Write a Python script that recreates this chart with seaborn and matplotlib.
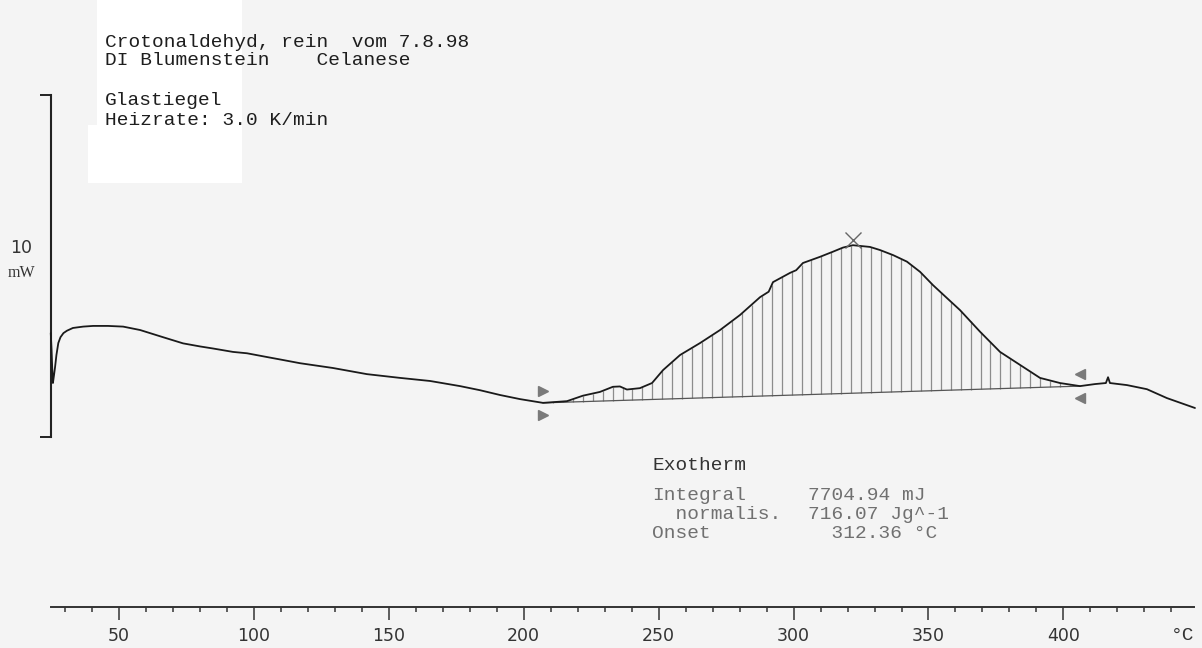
import numpy as np
import matplotlib
matplotlib.use("Agg")
import matplotlib.pyplot as plt
from matplotlib.patches import Rectangle
import seaborn as sns

# DSC trace: temperature (°C) and heat flow (mW, arbitrary offset)
temp = [24.9, 25.2, 25.6, 25.7, 26.1, 26.5, 27.0, 27.7, 28.5, 29.6, 30.9, 33.1,
        36.9, 40.6, 46.1, 51.7, 58.0, 66.5, 73.9, 80.2, 85.0, 92.4, 97.6, 105.0,
        109.8, 117.2, 129.4, 142.0, 154.3, 165.4, 176.5, 183.9, 191.3, 198.7,
        207.2, 216.1, 222.0, 228.3, 233.1, 235.7, 238.3, 243.1, 247.6, 251.7,
        258.0, 265.4, 272.8, 280.2, 287.6, 290.8, 292.4, 298.7, 301.0, 303.5,
        309.8, 314.6, 318.3, 322.0, 328.3, 332.0, 336.9, 342.0, 346.9, 351.7,
        356.9, 361.7, 369.1, 376.5, 383.9, 391.3, 398.7, 406.1, 411.7, 415.7,
        416.5, 417.2, 423.5, 430.9, 438.3, 448.7]
heat = [3.04, 2.54, 1.67, 1.58, 1.81, 2.05, 2.40, 2.75, 2.92, 3.04, 3.11, 3.19,
        3.23, 3.25, 3.25, 3.23, 3.13, 2.92, 2.74, 2.65, 2.59, 2.49, 2.45, 2.34,
        2.27, 2.16, 2.02, 1.84, 1.73, 1.64, 1.49, 1.37, 1.23, 1.11,
        1.00, 1.05, 1.21, 1.32, 1.47, 1.48, 1.39, 1.43, 1.58, 1.96,
        2.40, 2.75, 3.13, 3.57, 4.09, 4.25, 4.53, 4.80, 4.88, 5.09,
        5.27, 5.42, 5.54, 5.61, 5.56, 5.47, 5.32, 5.13, 4.83, 4.44,
        4.06, 3.71, 3.08, 2.49, 2.11, 1.73, 1.58, 1.49, 1.55, 1.58,
        1.75, 1.58, 1.52, 1.40, 1.14, 0.85]

# integration limits of the exotherm
t_on, t_off = 207.2, 406.1

major_ticks = [50, 100, 150, 200, 250, 300, 350, 400]
minor_ticks = [t for t in range(30, 441, 10) if t % 50]

header = ["Crotonaldehyd, rein  vom 7.8.98", "DI Blumenstein    Celanese",
          "Glastiegel", "Heizrate: 3.0 K/min"]
result_labels = ["Integral", "  normalis.", "Onset"]
result_values = ["7704.94 mJ", "716.07 Jg^-1", "  312.36 °C"]

sns.set_style("white")
plt.rcParams["font.family"] = ["DejaVu Sans"]

W, H = 1202, 648
fig = plt.figure(figsize=(W / 100, H / 100), dpi=100, facecolor="#f4f4f4")


def px(x, y):
    return x / W, 1 - y / H


# white paper patches behind the header
fig.add_artist(Rectangle(px(97, 130), 145 / W, 130 / H, transform=fig.transFigure,
                         facecolor="white", edgecolor="none", zorder=-1))
fig.add_artist(Rectangle(px(88, 183), 154 / W, 58 / H, transform=fig.transFigure,
                         facecolor="white", edgecolor="none", zorder=-1))

ax = fig.add_axes([0, (H - 606.7) / H, 1, 606.7 / H])
ax.set_facecolor("none")

temp_a = np.array(temp)
heat_a = np.array(heat)

# hatched area under the peak
base = np.interp([t_on, t_off], temp_a, heat_a)
xs = np.linspace(t_on, t_off, 55)[1:-1]
ax.vlines(xs, np.interp(xs, [t_on, t_off], base), np.interp(xs, temp_a, heat_a),
          color="#8c8c8c", linewidth=0.9, zorder=1)
ax.plot([t_on, t_off], base, color="#555555", linewidth=0.9, zorder=1)

sns.lineplot(x=temp, y=heat, ax=ax, color="#1a1a1a", linewidth=1.3,
             estimator=None, sort=False, zorder=3)

# limit markers and peak cross
ax.plot([t_on, t_on], [base[0] + 0.36, base[0] - 0.36], linestyle="none",
        marker=">", markersize=6.5, color="#7a7a7a", zorder=4)
ax.plot([t_off, t_off], [base[1] + 0.36, base[1] - 0.36], linestyle="none",
        marker="<", markersize=6.5, color="#7a7a7a", zorder=4)
ipk = int(np.argmax(heat_a))
ax.plot(temp_a[ipk], heat_a[ipk] + 0.15, marker="x", markersize=11,
        markeredgewidth=1.0, color="#666666", zorder=4)

ax.set_xlim(6.1, 451.3)
ax.set_ylim(-4.96, 12.78)

for side in ["top", "right"]:
    ax.spines[side].set_visible(False)
ax.spines["bottom"].set_bounds(24.9, 448.5)
ax.spines["bottom"].set_linewidth(1.4)
ax.spines["bottom"].set_color("#333333")
ax.spines["left"].set_position(("data", 25.0))
ax.spines["left"].set_bounds(0, 10)
ax.spines["left"].set_linewidth(1.5)
ax.spines["left"].set_color("#222222")

ax.set_xticks(major_ticks)
ax.set_xticklabels([str(t) for t in major_ticks])
ax.set_xticks(minor_ticks, minor=True)
ax.tick_params(axis="x", which="both", bottom=True, top=False)
ax.tick_params(axis="x", which="major", direction="out", length=9.4, width=1.1,
               color="#333333", labelsize=12.5, labelcolor="#333333", pad=5)
ax.tick_params(axis="x", which="minor", direction="out", length=3.6, width=1.1,
               color="#333333")
ax.set_yticks([0, 10])
ax.set_yticklabels([])
ax.tick_params(axis="y", which="major", left=True, direction="out", length=8,
               width=1.4, color="#222222")

mono = "Liberation Mono"
fs = 14.0
fig.text(*px(105, 46.7), header[0], family=mono, fontsize=fs, color="#1e1e1e", va="baseline")
fig.text(*px(105, 65), header[1], family=mono, fontsize=fs, color="#1e1e1e", va="baseline")
fig.text(*px(105, 105), header[2], family=mono, fontsize=fs, color="#1e1e1e", va="baseline")
fig.text(*px(105, 125), header[3], family=mono, fontsize=fs, color="#1e1e1e", va="baseline")

fig.text(*px(652, 470), "Exotherm", family=mono, fontsize=fs, color="#333333", va="baseline")
for i, yy in enumerate([500, 519, 538]):
    fig.text(*px(652, yy), result_labels[i], family=mono, fontsize=fs,
             color="#707070", va="baseline")
    fig.text(*px(808, yy), result_values[i], family=mono, fontsize=fs,
             color="#707070", va="baseline")

fig.text(*px(21.5, 248), "10", fontsize=12.5, color="#333333", ha="center", va="center")
fig.text(*px(21.5, 273), "mW", family="Liberation Serif", fontsize=11.5,
         color="#333333", ha="center", va="center")
fig.text(*px(1183, 636), "°C", family=mono, fontsize=fs, color="#333333",
         ha="center", va="center")

fig.savefig("out.png", dpi=100, facecolor=fig.get_facecolor())
